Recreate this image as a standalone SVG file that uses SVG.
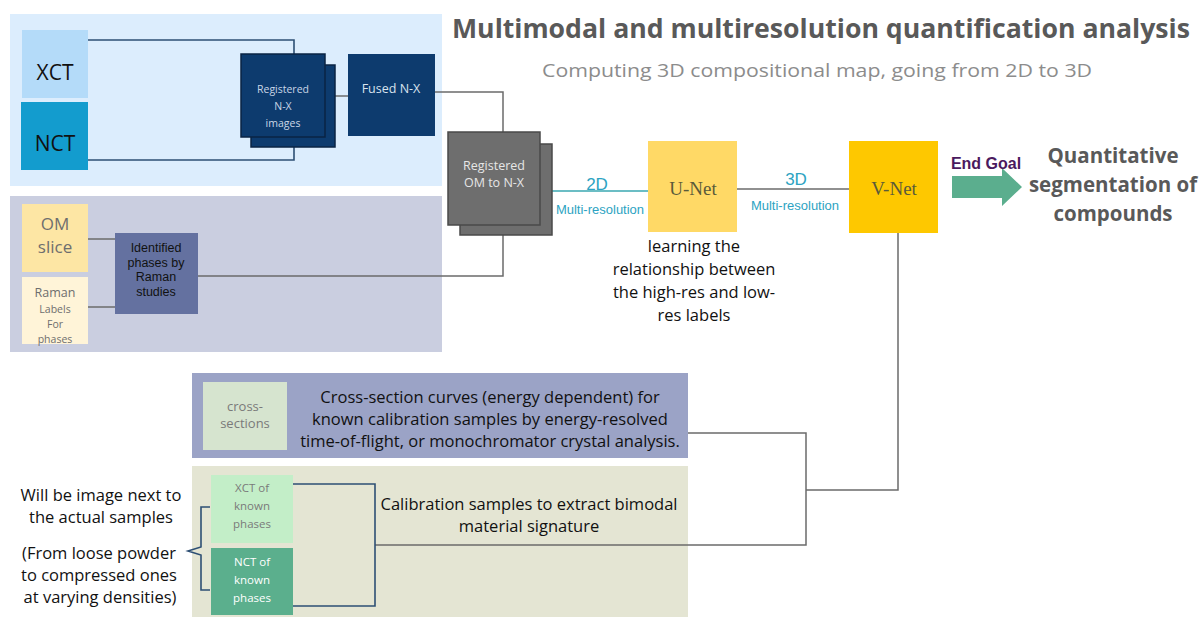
<svg xmlns="http://www.w3.org/2000/svg" width="1199" height="619" viewBox="0 0 1199 619">
<style>
text{font-family:"Open Sans","Liberation Sans",sans-serif;}
.c{text-anchor:middle;}
.ln{fill:none;stroke:#6b6b6b;stroke-width:1.5;}
.lb{fill:none;stroke:#2d4f74;stroke-width:1.6;}
.navy{fill:#0d3b6e;stroke:#0a2444;stroke-width:1.5;}
.gray{fill:#6e6e6e;stroke:#4a4a4a;stroke-width:1.5;}
.teal{fill:#2da3c2;font-family:"Liberation Sans",Arial,sans-serif;}
.ar{font-family:"Liberation Sans",Arial,sans-serif;}
.body{font-size:16.5px;fill:#111;}
</style>
<rect width="1199" height="619" fill="#ffffff"/>
<g id="panel-ct"><rect x="10" y="14" width="432" height="172" fill="#dcedfd"/></g>
<g id="panel-om"><rect x="10" y="196" width="432" height="156" fill="#cacee0"/></g>
<g id="panel-cross"><rect x="192" y="373" width="496" height="85" fill="#9ba3c6"/></g>
<g id="panel-cal"><rect x="192" y="466" width="496" height="151" fill="#e4e5d3"/></g>

<g id="connectors">
<polyline class="lb" points="88,40 294,40 294,54"/>
<polyline class="lb" points="88,160 294,160 294,147"/>
<line class="ln" x1="335" y1="96" x2="348" y2="96"/>
<polyline class="ln" points="435,92 503,92 503,132"/>
<line class="ln" x1="88" y1="239" x2="115" y2="239"/>
<line class="ln" x1="88" y1="307" x2="115" y2="307"/>
<polyline class="ln" points="198,276 503,276 503,235"/>
<line x1="552" y1="191" x2="648" y2="191" stroke="#3aa7b0" stroke-width="1.5"/>
<line class="ln" x1="737" y1="189" x2="849" y2="189"/>
<polyline class="ln" points="898,233 898,490 806,490"/>
<polyline class="ln" points="688,433 806,433 806,545 375,545"/>
<polyline class="lb" points="293,484 375,484 375,606 293,606"/>
<path class="lb" d="M210,507 L201,507 L201,547 L188,551 L201,555 L201,590 L210,590"/>
<polygon points="952,176 1002,176 1002,168 1022,187 1002,206 1002,198 952,198" fill="#5bae8e"/>
</g>

<g id="title">
<text x="821" y="38" class="c" font-size="27" font-weight="bold" fill="#595959" textLength="738" lengthAdjust="spacingAndGlyphs">Multimodal and multiresolution quantification analysis</text>
<text x="817" y="77" class="c" font-size="18" fill="#8c8c8c" textLength="550" lengthAdjust="spacingAndGlyphs">Computing 3D compositional map, going from 2D to 3D</text>
</g>

<g id="xct"><rect x="22" y="30" width="66" height="68" fill="#b4dbf9"/><text x="55" y="80" class="c" font-size="21" fill="#111">XCT</text></g>
<g id="nct"><rect x="21" y="102" width="67" height="68" fill="#139cce"/><text x="55" y="151" class="c" font-size="21" fill="#111">NCT</text></g>
<g id="registered-nx">
<rect x="251" y="65" width="84" height="82" class="navy"/>
<rect x="241" y="54" width="84" height="83" class="navy"/>
<text class="c" font-size="10.5" fill="#c9d6e6"><tspan x="283" y="93">Registered</tspan><tspan x="283" y="110">N-X</tspan><tspan x="283" y="127">images</tspan></text>
</g>
<g id="fused"><rect x="348" y="54" width="87" height="82" fill="#0d3b6e"/><text x="391" y="93" class="c" font-size="12.5" fill="#d9e3ee">Fused N-X</text></g>

<g id="om-slice"><rect x="22" y="204" width="66" height="68" fill="#fde6a4"/><text class="c" font-size="17" fill="#6e6e6e"><tspan x="55" y="230">OM</tspan><tspan x="55" y="253">slice</tspan></text></g>
<g id="raman"><rect x="22" y="277" width="66" height="67" fill="#fff4d8"/><text class="c" fill="#6e6e6e"><tspan x="55" y="297" font-size="12.5">Raman</tspan><tspan x="55" y="313" font-size="10.5">Labels</tspan><tspan x="55" y="328" font-size="10.5">For</tspan><tspan x="55" y="343" font-size="10.5">phases</tspan></text></g>
<g id="identified"><rect x="115" y="233" width="83" height="81" fill="#6471a0"/><text class="c ar" font-size="12.5" fill="#111"><tspan x="156" y="252">Identified</tspan><tspan x="156" y="267">phases by</tspan><tspan x="156" y="281">Raman</tspan><tspan x="156" y="296">studies</tspan></text></g>

<g id="registered-om">
<rect x="460" y="144" width="92" height="91" class="gray"/>
<rect x="448" y="132" width="92" height="93" class="gray"/>
<text class="c" font-size="12.5" fill="#e6e6e6"><tspan x="494" y="170">Registered</tspan><tspan x="494" y="187">OM to N-X</tspan></text>
</g>

<g id="labels-2d"><text x="597" y="190" class="c teal" font-size="17">2D</text><text x="600" y="214" class="c teal" font-size="13">Multi-resolution</text></g>
<g id="labels-3d"><text x="796" y="185" class="c teal" font-size="17">3D</text><text x="795" y="210" class="c teal" font-size="13">Multi-resolution</text></g>

<g id="unet"><rect x="648" y="141" width="89" height="91" fill="#ffd966"/><text x="693" y="195" class="c" font-size="19" fill="#5a5a3a" style="font-family:'Liberation Serif',serif">U-Net</text></g>
<g id="unet-note"><text class="c body"><tspan x="694" y="252">learning the</tspan><tspan x="694" y="275">relationship between</tspan><tspan x="694" y="298">the high-res and low-</tspan><tspan x="694" y="321">res labels</tspan></text></g>
<g id="vnet"><rect x="849" y="141" width="89" height="92" fill="#fec800"/><text x="894" y="195" class="c" font-size="19" fill="#5a5a3a" style="font-family:'Liberation Serif',serif">V-Net</text></g>

<g id="end-goal"><text x="986" y="169" class="c ar" font-size="16" font-weight="bold" fill="#4b1a5e">End Goal</text></g>
<g id="quantitative"><text class="c" font-size="20.5" font-weight="bold" fill="#595959"><tspan x="1113" y="163">Quantitative</tspan><tspan x="1113" y="192">segmentation of</tspan><tspan x="1113" y="221">compounds</tspan></text></g>

<g id="cross-sections"><rect x="203" y="382" width="84" height="68" fill="#d6e4cf"/><text class="c" font-size="13" fill="#7a7a7a"><tspan x="245" y="411">cross-</tspan><tspan x="245" y="428">sections</tspan></text></g>
<g id="cross-text"><text class="c body"><tspan x="490" y="403">Cross-section curves (energy dependent) for</tspan><tspan x="490" y="425">known calibration samples by energy-resolved</tspan><tspan x="490" y="447">time-of-flight, or monochromator crystal analysis.</tspan></text></g>

<g id="xct-known"><rect x="211" y="475" width="82" height="68" fill="#c3eec8"/><text class="c" font-size="11.5" fill="#7a7a7a"><tspan x="252" y="492">XCT of</tspan><tspan x="252" y="510">known</tspan><tspan x="252" y="528">phases</tspan></text></g>
<g id="nct-known"><rect x="211" y="548" width="82" height="67" fill="#5baf8d"/><text class="c" font-size="11.5" fill="#ffffff"><tspan x="252" y="566">NCT of</tspan><tspan x="252" y="584">known</tspan><tspan x="252" y="602">phases</tspan></text></g>
<g id="cal-text"><text class="c body"><tspan x="529" y="510">Calibration samples to extract bimodal</tspan><tspan x="529" y="532">material signature</tspan></text></g>
<g id="left-note"><text class="c body"><tspan x="101" y="501">Will be image next to</tspan><tspan x="101" y="523">the actual samples</tspan><tspan x="99" y="559">(From loose powder</tspan><tspan x="99" y="581">to compressed ones</tspan><tspan x="100" y="603">at varying densities)</tspan></text></g>
</svg>
